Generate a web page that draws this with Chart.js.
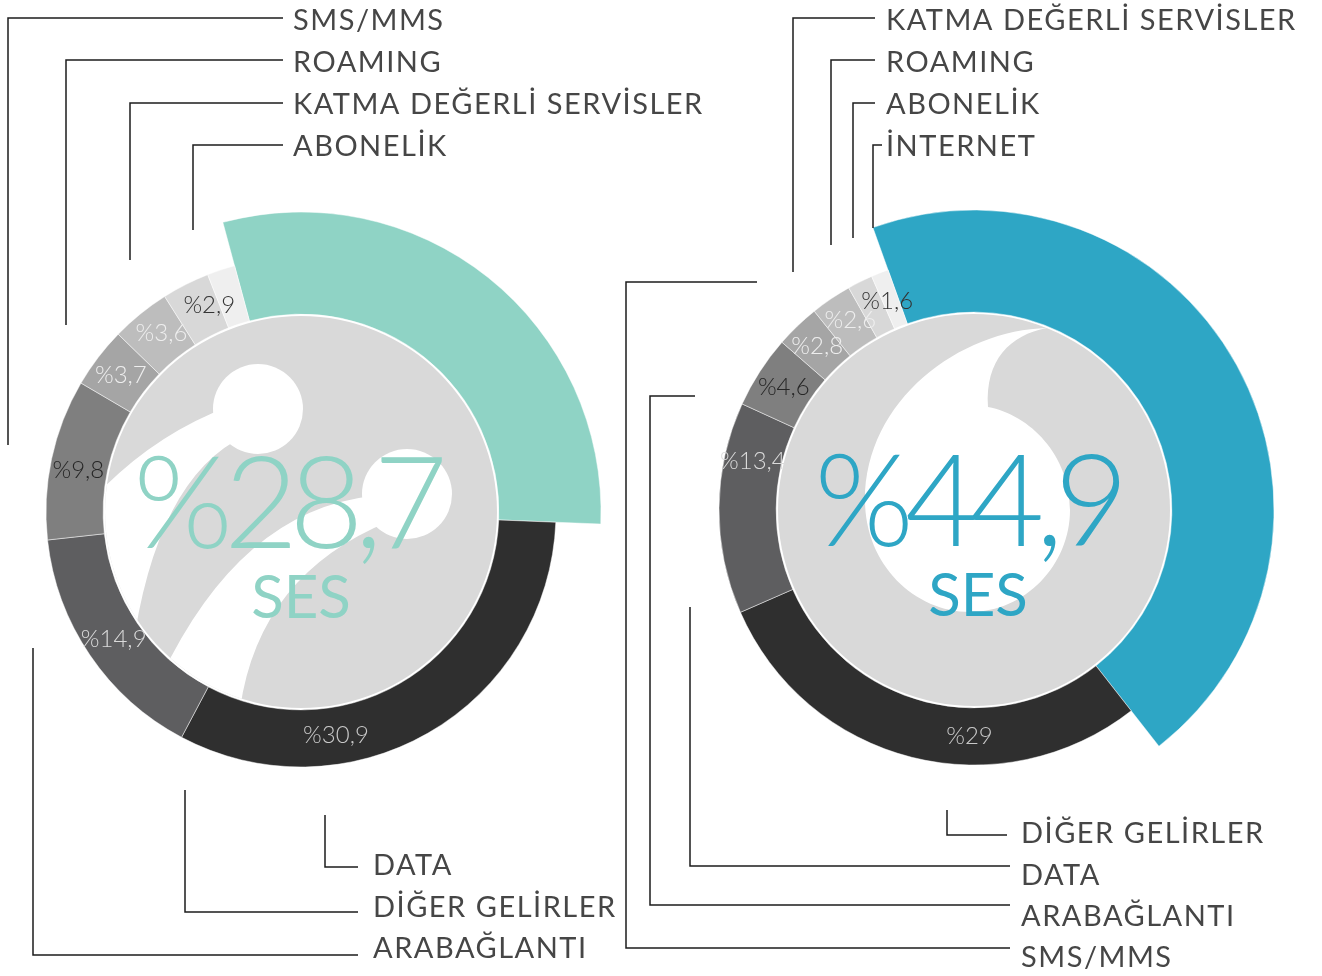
<!DOCTYPE html>
<html>
<head>
<meta charset="utf-8">
<script src="https://cdn.jsdelivr.net/npm/chart.js@4.4.1/dist/chart.umd.min.js"></script>
<style>
  html,body{margin:0;padding:0;background:#fff;}
  #wrap{position:relative;width:1322px;height:976px;overflow:hidden;}
  #wrap canvas{position:absolute;left:0;top:0;}
</style>
</head>
<body>
<div id="wrap">
  <canvas id="left" width="1322" height="976"></canvas>
  <canvas id="right" width="1322" height="976"></canvas>
</div>
<script>
// slices, clockwise from the highlighted one
const leftCategories=['SES','DATA','ARABAĞLANTI','SMS/MMS','ROAMING','KATMA DEĞERLİ SERVİSLER','ABONELİK','DİĞER GELİRLER'];
const leftValues=[28.7,30.9,14.9,9.8,3.7,3.6,2.9,1.7];
const rightCategories=['SES','DATA','ARABAĞLANTI','SMS/MMS','KATMA DEĞERLİ SERVİSLER','ROAMING','ABONELİK','İNTERNET'];
const rightValues=[44.9,29,13.4,4.6,2.8,2.6,1.6,1.1];

// callout texts
const leftTopLabels=['SMS/MMS','ROAMING','KATMA DEĞERLİ SERVİSLER','ABONELİK'];
const leftBottomLabels=['DATA','DİĞER GELİRLER','ARABAĞLANTI'];
const rightTopLabels=['KATMA DEĞERLİ SERVİSLER','ROAMING','ABONELİK','İNTERNET'];
const rightBottomLabels=['DİĞER GELİRLER','DATA','ARABAĞLANTI','SMS/MMS'];

const greys=['#2f2f2f','#5e5e60','#7f7f7f','#a5a5a5','#bdbdbd','#d8d8d8','#efefef'];
const sliceLabelColors=[null,'#c9c9c9','#dadada','#262626','#eeeeee','#eeeeee','#333333',null];

function pct(v){return '%'+String(v).replace('.',',');}

function peopleIcon(ctx,x,y){
  ctx.beginPath();ctx.arc(x-43,y-103,45,0,Math.PI*2);ctx.fill();
  ctx.beginPath();ctx.arc(x+106,y-18,45,0,Math.PI*2);ctx.fill();
  ctx.beginPath();
  ctx.moveTo(x-71,y-106);
  ctx.quadraticCurveTo(x-151,y-76,x-210,y-11);
  ctx.lineTo(x-210,y+170);ctx.lineTo(x-172,y+165);
  ctx.quadraticCurveTo(x-152,y-21,x-66,y-71);
  ctx.closePath();ctx.fill();
  ctx.beginPath();
  ctx.moveTo(x+71,y-16);
  ctx.quadraticCurveTo(x-61,y-1,x-140,y+165);
  ctx.lineTo(x-62,y+205);
  ctx.quadraticCurveTo(x-46,y+64,x+89,y+9);
  ctx.closePath();ctx.fill();
}
function speechIcon(ctx,x,y){
  ctx.beginPath();
  ctx.moveTo(x+73,y-182);
  ctx.bezierCurveTo(x-14,y-180,x-109,y-110,x-109,y-10);
  ctx.bezierCurveTo(x-109,y+55,x-59,y+102,x-4,y+102);
  ctx.bezierCurveTo(x+51,y+102,x+96,y+55,x+96,y);
  ctx.bezierCurveTo(x+96,y-55,x+56,y-95,x+14,y-103);
  ctx.bezierCurveTo(x+11,y-150,x+36,y-175,x+73,y-182);
  ctx.closePath();ctx.fill();
}

const decor={
  id:'decor',
  beforeDatasetsDraw(chart,args,o){
    const arc=chart.getDatasetMeta(0).data[0];
    arc.outerRadius=o.bigR;
    const ctx=chart.ctx,x=arc.x,y=arc.y;
    ctx.save();
    ctx.beginPath();ctx.arc(x,y,o.discR,0,Math.PI*2);
    ctx.fillStyle='#d9d9d9';ctx.fill();ctx.clip();
    ctx.fillStyle='#ffffff';o.icon(ctx,x,y);
    ctx.restore();
  },
  afterDatasetsDraw(chart,args,o){
    const ctx=chart.ctx,meta=chart.getDatasetMeta(0),vals=chart.data.datasets[0].data;
    const x=meta.data[0].x,y=meta.data[0].y;
    ctx.save();
    // slice values
    ctx.font='300 24px Lato';ctx.textAlign='center';ctx.textBaseline='middle';
    meta.data.forEach(function(el,i){
      if(!sliceLabelColors[i])return;
      const a=(el.startAngle+el.endAngle)/2+(o.shift[i]||0)*Math.PI/180;
      const r=(el.innerRadius+255)/2;
      ctx.fillStyle=sliceLabelColors[i];
      ctx.fillText(pct(vals[i]),x+r*Math.cos(a),y+r*Math.sin(a));
    });
    // centre figure
    ctx.fillStyle=o.color;ctx.textBaseline='alphabetic';
    ctx.font='300 128px Lato';ctx.letterSpacing='-9px';
    ctx.fillText(pct(vals[0]),x+o.numDx,y+36);
    ctx.letterSpacing='0px';ctx.font='400 60px Lato';
    ctx.fillText(chart.data.labels[0],x+o.sesDx,y+106);
    // callouts
    ctx.strokeStyle='#1c1c1c';ctx.lineWidth=1.5;
    o.leaders.forEach(function(pts){
      ctx.beginPath();ctx.moveTo(pts[0][0],pts[0][1]);
      for(let k=1;k<pts.length;k++)ctx.lineTo(pts[k][0],pts[k][1]);
      ctx.stroke();
    });
    ctx.fillStyle='#464646';ctx.textAlign='left';ctx.textBaseline='middle';
    ctx.font='400 29px Lato';ctx.letterSpacing='1.5px';
    o.texts.forEach(function(t,i){ctx.fillText(t,o.textPos[i][0],o.textPos[i][1]);});
    ctx.restore();
  }
};

function makeChart(id,cats,vals,accent,rot,pad,extra){
  return new Chart(document.getElementById(id),{
    type:'doughnut',
    data:{labels:cats,datasets:[{data:vals,backgroundColor:[accent].concat(greys),
      borderColor:'rgba(255,255,255,0.6)',borderWidth:0.8}]},
    options:{responsive:false,animation:false,rotation:rot,radius:255,cutout:'77.6%',
      layout:{padding:pad},
      plugins:{legend:{display:false},tooltip:{enabled:false},decor:Object.assign({bigR:300,discR:196,color:accent},extra)}},
    plugins:[decor]
  });
}

makeChart('left',leftCategories,leftValues,'#8fd3c5',-15.1,{left:1,right:721,top:212,bottom:164},{
  icon:peopleIcon,numDx:-15,sesDx:0,shift:[0,21,0,-1.5,0,1,3,0],
  texts:leftTopLabels.concat(leftBottomLabels),
  textPos:[[293,21],[293,63],[293,105],[293,147],[373,866],[373,908],[373,949]],
  leaders:[[[8,445],[8,18],[283,18]],[[66,325],[66,60],[283,60]],[[130,260],[130,103],[283,103]],[[193,230],[193,145],[283,145]],
    [[325,815],[325,867],[358,867]],[[185,790],[185,912],[358,912]],[[33,648],[33,955],[358,955]]]
});
makeChart('right',rightCategories,rightValues,'#2ea6c5',-19.7,{left:674,right:48,top:210,bottom:166},{
  icon:speechIcon,numDx:-7,sesDx:4,shift:[0,-13,12,0,0,1,4,0],
  texts:rightTopLabels.concat(rightBottomLabels),
  textPos:[[886,21],[886,63],[886,105],[886,147],[1021,834],[1021,876],[1021,917],[1021,958]],
  leaders:[[[793,272],[793,18],[875,18]],[[831,245],[831,60],[875,60]],[[853,238],[853,103],[875,103]],[[873,228],[873,145],[882,145]],
    [[947,810],[947,835],[1007,835]],[[690,607],[690,866],[1010,866]],[[695,396],[650,396],[650,905],[1010,905]],[[757,282],[626,282],[626,948],[1010,948]]]
});
</script>
</body>
</html>
